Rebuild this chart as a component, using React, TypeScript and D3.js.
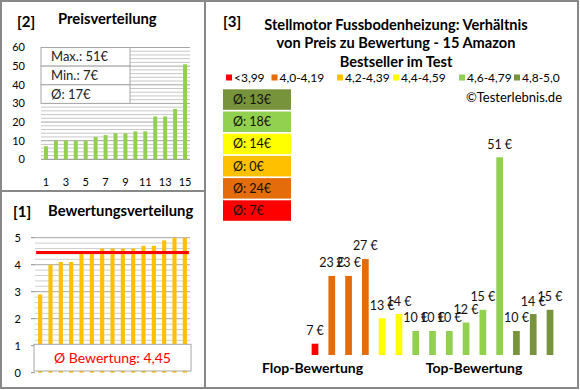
import React, { useEffect, useRef } from "react";
import * as d3 from "d3";

// sorted prices (chart [2])
const prices = [7, 10, 10, 10, 10, 12, 13, 14, 14, 15, 15, 23, 23, 27, 51];
const priceTicks = [0, 10, 20, 30, 40, 50, 60];
const priceStats = ["Max.: 51€", "Min.: 7€", "Ø: 17€"];

// sorted ratings (chart [1])
const ratings = [2.9, 4.0, 4.1, 4.1, 4.4, 4.5, 4.6, 4.6, 4.6, 4.6, 4.7, 4.7, 4.9, 5.0, 5.0];
const ratingTicks = [0, 1, 2, 3, 4, 5];
const avgRating = 4.45;
const avgRatingLabel = "Ø Bewertung: 4,45";

// chart [3]: prices ordered by rating (flop -> top), paired with ratings above
const rankPrices = [7, 23, 23, 27, 13, 14, 10, 10, 10, 12, 15, 51, 10, 14, 15];
const groupLabels = ["<3,99", "4,0-4,19", "4,2-4,39", "4,4-4,59", "4,6-4,79", "4,8-5,0"];
const groupColors = ["#ff0000", "#e46c0a", "#ffc000", "#ffff00", "#92d050", "#77933c"];
const groupAvg = [7, 24, 0, 14, 18, 13];
const titleLines = [
  "Stellmotor Fussbodenheizung: Verhältnis",
  "von Preis zu Bewertung - 15 Amazon",
  "Bestseller im Test",
];

const FONT = "Lato, 'Open Sans', sans-serif";

const App = () => {
  const svgRef = useRef<SVGSVGElement>(null);

  useEffect(() => {
    document.body.style.margin = "0";
    const svg = d3.select(svgRef.current);
    svg.selectAll("*").remove();
    svg.attr("font-family", FONT);

    // frame
    svg.append("rect").attr("x", 1).attr("y", 1).attr("width", 577).attr("height", 387)
      .attr("fill", "#fff").attr("stroke", "#888").attr("stroke-width", 2);
    svg.append("line").attr("x1", 1).attr("x2", 205).attr("y1", 191).attr("y2", 191)
      .attr("stroke", "#888").attr("stroke-width", 2);
    svg.append("line").attr("x1", 205).attr("x2", 205).attr("y1", 1).attr("y2", 388)
      .attr("stroke", "#888").attr("stroke-width", 2);

    const idx = d3.range(15);

    // ---------- [2] Preisverteilung ----------
    const p = svg.append("g");
    p.append("text").attr("x", 17).attr("y", 27).attr("font-size", 15).attr("font-weight", "bold").text("[2]");
    p.append("text").attr("x", 58).attr("y", 24).attr("font-size", 14.8).attr("font-weight", "bold").text("Preisverteilung");

    const px = d3.scaleBand<number>().domain(idx).range([41, 190]).paddingInner(0.6).paddingOuter(0.3);
    const py = d3.scaleLinear().domain([0, 60]).range([159.3, 47.5]);

    p.append("g").selectAll("line").data(d3.range(2, 61, 2)).enter().append("line")
      .attr("x1", 41).attr("x2", 190).attr("y1", (d) => py(d)).attr("y2", (d) => py(d))
      .attr("stroke", (d) => (d % 10 === 0 ? "#a6a6a6" : "#c8c8c8")).attr("stroke-width", 1);
    p.append("line").attr("x1", 41).attr("x2", 190).attr("y1", py(0)).attr("y2", py(0)).attr("stroke", "#8c8c8c");

    p.append("g").selectAll("rect").data(prices).enter().append("rect")
      .attr("x", (d, i) => px(i)!).attr("y", (d) => py(d))
      .attr("width", px.bandwidth()).attr("height", (d) => py(0) - py(d)).attr("fill", "#92d050");

    p.append("g").selectAll("text").data(priceTicks).enter().append("text")
      .attr("x", 25).attr("y", (d) => py(d)).attr("dy", "0.35em").attr("text-anchor", "end")
      .attr("font-size", 11).text((d) => d);
    p.append("g").selectAll("text").data(idx.filter((i) => i % 2 === 0)).enter().append("text")
      .attr("x", (i) => px(i)! + px.bandwidth() / 2).attr("y", 186).attr("text-anchor", "middle")
      .attr("font-size", 11).text((i) => i + 1);

    // stats table
    const rowH = (py(30) - py(60)) / 3;
    const tbl = p.append("g");
    priceStats.forEach((s, i) => {
      const y0 = py(60) + i * rowH;
      tbl.append("rect").attr("x", 41).attr("y", y0).attr("width", 89).attr("height", rowH)
        .attr("fill", "#fff").attr("stroke", "#a6a6a6");
      tbl.append("text").attr("x", 51).attr("y", y0 + rowH / 2).attr("dy", "0.35em")
        .attr("font-size", 13).attr("fill", "#222").text(s);
    });

    // ---------- [1] Bewertungsverteilung ----------
    const b = svg.append("g");
    b.append("text").attr("x", 13).attr("y", 217).attr("font-size", 15).attr("font-weight", "bold").text("[1]");
    b.append("text").attr("x", 48).attr("y", 216).attr("font-size", 14.8).attr("font-weight", "bold").text("Bewertungsverteilung");

    const bx = d3.scaleBand<number>().domain(idx).range([35, 190]).paddingInner(0.6).paddingOuter(0.3);
    const by = d3.scaleLinear().domain([0, 5]).range([372.7, 237.7]);

    b.append("g").selectAll("line").data(d3.range(1, 26).map((k) => k / 5)).enter().append("line")
      .attr("x1", 35).attr("x2", 190).attr("y1", (d) => by(d)).attr("y2", (d) => by(d))
      .attr("stroke", (d) => (Math.abs(d - Math.round(d)) < 1e-6 ? "#a6a6a6" : "#cfcfcf"));
    b.append("g").selectAll("line").data(ratingTicks).enter().append("line")
      .attr("x1", 31).attr("x2", 35).attr("y1", (d) => by(d)).attr("y2", (d) => by(d)).attr("stroke", "#8c8c8c");

    b.append("g").selectAll("rect").data(ratings).enter().append("rect")
      .attr("x", (d, i) => bx(i)!).attr("y", (d) => by(d))
      .attr("width", bx.bandwidth()).attr("height", (d) => by(0) - by(d)).attr("fill", "#ffc000");

    b.append("line").attr("x1", bx(0)! - 2).attr("x2", bx(14)! + bx.bandwidth() + 2)
      .attr("y1", by(avgRating)).attr("y2", by(avgRating)).attr("stroke", "#ff0000").attr("stroke-width", 3);

    b.append("g").selectAll("text").data(ratingTicks).enter().append("text")
      .attr("x", 21).attr("y", (d) => by(d)).attr("dy", "0.35em").attr("text-anchor", "end")
      .attr("font-size", 11).text((d) => d);

    b.append("rect").attr("x", 34).attr("y", 344.3).attr("width", 157).attr("height", 26.7)
      .attr("fill", "#fff").attr("stroke", "#a6a6a6");
    b.append("text").attr("x", 112.5).attr("y", 363).attr("text-anchor", "middle")
      .attr("font-size", 14).attr("fill", "#ff0000").text(avgRatingLabel);

    // ---------- [3] Verhältnis ----------
    const r = svg.append("g");
    r.append("text").attr("x", 223).attr("y", 27).attr("font-size", 15).attr("font-weight", "bold").text("[3]");
    r.append("g").selectAll("text").data(titleLines).enter().append("text")
      .attr("x", 396).attr("y", (d, i) => 29.5 + i * 18.6).attr("text-anchor", "middle")
      .attr("font-size", 14.6).attr("font-weight", "bold").text((d) => d);

    // legend
    const legX = [226, 271.5, 337, 393, 459, 514];
    const leg = r.append("g").selectAll("g").data(groupLabels).enter().append("g")
      .attr("transform", (d, i) => `translate(${legX[i]},77.5)`);
    leg.append("rect").attr("x", 0).attr("y", -3).attr("width", 6).attr("height", 6).attr("fill", (d, i) => groupColors[i]);
    leg.append("text").attr("x", 8).attr("y", 0).attr("dy", "0.35em").attr("font-size", 12).text((d) => d);

    r.append("text").attr("x", 562).attr("y", 101.5).attr("text-anchor", "end").attr("font-size", 13)
      .text("©Testerlebnis.de");

    // average price boxes (top = best group)
    const boxes = r.append("g").selectAll("g").data(d3.range(5, -1, -1)).enter().append("g")
      .attr("transform", (g, i) => `translate(223,${89.3 + i * 22.2})`);
    boxes.append("rect").attr("width", 68).attr("height", 20.5).attr("fill", (g) => groupColors[g]);
    boxes.append("text").attr("x", 10).attr("y", 10.3).attr("dy", "0.35em").attr("font-size", 12.5)
      .attr("fill", "#111").text((g) => `Ø: ${groupAvg[g]}€`);

    const rx = d3.scaleBand<number>().domain(idx).range([306.6, 558.4]).paddingInner(0.6).paddingOuter(0.3);
    const ry = d3.scaleLinear().domain([4.33, 51]).range([355, 157.3]);
    const color = d3.scaleThreshold<number, string>().domain([4.0, 4.2, 4.4, 4.6, 4.8]).range(groupColors);

    r.append("g").selectAll("rect").data(rankPrices).enter().append("rect")
      .attr("x", (d, i) => rx(i)!).attr("y", (d) => ry(d))
      .attr("width", rx.bandwidth()).attr("height", (d) => ry(4.33) - ry(d))
      .attr("fill", (d, i) => color(ratings[i]));
    r.append("g").selectAll("text").data(rankPrices).enter().append("text")
      .attr("x", (d, i) => rx(i)! + rx.bandwidth() / 2).attr("y", (d) => ry(d) - 8.5)
      .attr("text-anchor", "middle").attr("font-size", 12.5).attr("fill", "#111").text((d) => `${d} €`);

    r.append("text").attr("x", 312.5).attr("y", 373).attr("text-anchor", "middle")
      .attr("font-size", 14).attr("font-weight", "bold").text("Flop-Bewertung");
    r.append("text").attr("x", 474).attr("y", 373).attr("text-anchor", "middle")
      .attr("font-size", 14).attr("font-weight", "bold").text("Top-Bewertung");
  }, []);

  return <svg ref={svgRef} width={580} height={390} style={{ display: "block" }}></svg>;
};

export default App;
